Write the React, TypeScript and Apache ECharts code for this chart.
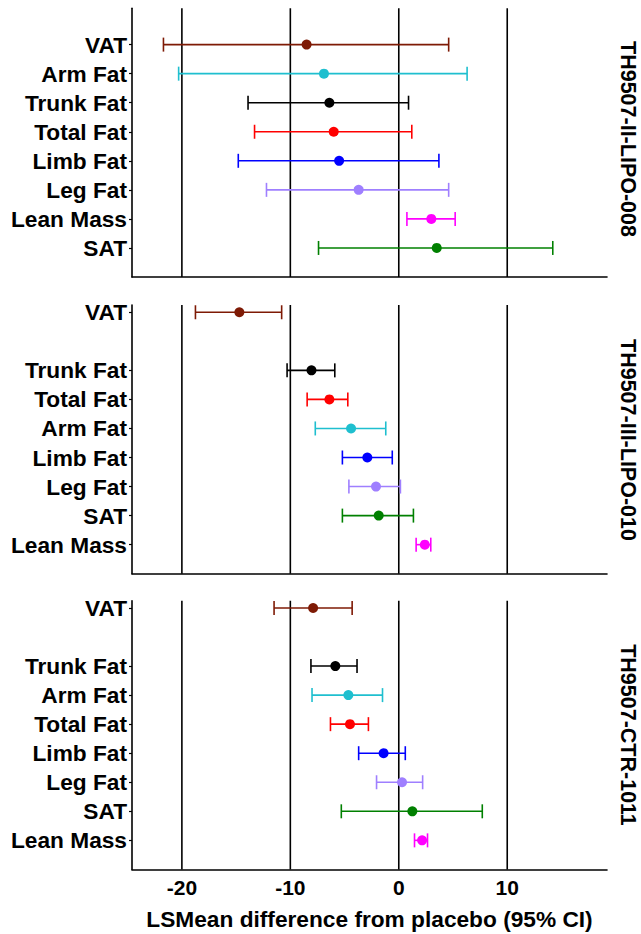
import React, { useEffect, useRef } from "react";
import * as echarts from "echarts";

// ---------- data ----------
const studies = ["TH9507-II-LIPO-008", "TH9507-III-LIPO-010", "TH9507-CTR-1011"];

const p1Cats = ["VAT", "Arm Fat", "Trunk Fat", "Total Fat", "Limb Fat", "Leg Fat", "Lean Mass", "SAT"];
const p1Pos = [0, 1, 2, 3, 4, 5, 6, 7];
const p1Mean = [-8.5, -6.9, -6.4, -6.0, -5.5, -3.7, 3.0, 3.5];
const p1Low = [-21.7, -20.3, -13.9, -13.3, -14.8, -12.2, 0.75, -7.4];
const p1High = [4.6, 6.3, 0.9, 1.2, 3.7, 4.6, 5.2, 14.2];

const p2Cats = ["VAT", "Trunk Fat", "Total Fat", "Arm Fat", "Limb Fat", "Leg Fat", "SAT", "Lean Mass"];
const p2Pos = [0, 2, 3, 4, 5, 6, 7, 8];
const p2Mean = [-14.7, -8.05, -6.4, -4.4, -2.9, -2.1, -1.85, 2.4];
const p2Low = [-18.75, -10.3, -8.45, -7.7, -5.2, -4.6, -5.2, 1.6];
const p2High = [-10.8, -5.9, -4.7, -1.2, -0.6, 0.15, 1.35, 2.95];

const p3Cats = ["VAT", "Trunk Fat", "Arm Fat", "Total Fat", "Limb Fat", "Leg Fat", "SAT", "Lean Mass"];
const p3Pos = [0, 2, 3, 4, 5, 6, 7, 8];
const p3Mean = [-7.9, -5.85, -4.65, -4.5, -1.4, 0.3, 1.25, 2.15];
const p3Low = [-11.5, -8.1, -8.0, -6.3, -3.7, -2.05, -5.3, 1.45];
const p3High = [-4.3, -3.85, -1.5, -2.8, 0.6, 2.2, 7.7, 2.65];

const refLines = [-20, -10, 0, 10];
const xTickValues = [-20, -10, 0, 10];
const xName = "LSMean difference from placebo (95% CI)";

const colorByName: Record<string, string> = {
  VAT: "#7E1A05",
  "Arm Fat": "#1FBFCF",
  "Trunk Fat": "#000000",
  "Total Fat": "#FF0000",
  "Limb Fat": "#0000FF",
  "Leg Fat": "#9F7FFF",
  "Lean Mass": "#FF00FF",
  SAT: "#008000",
};

const panels = [
  { cats: p1Cats, pos: p1Pos, mean: p1Mean, low: p1Low, high: p1High, yMin: -1.25, yMax: 8 },
  { cats: p2Cats, pos: p2Pos, mean: p2Mean, low: p2Low, high: p2High, yMin: -0.25, yMax: 9 },
  { cats: p3Cats, pos: p3Pos, mean: p3Mean, low: p3Low, high: p3High, yMin: -0.25, yMax: 9 },
];

const FONT = "'Liberation Sans', Arial, sans-serif";

export default function App() {
  const ref = useRef<HTMLDivElement>(null);

  useEffect(() => {
    if (!ref.current) return;
    const chart = echarts.init(ref.current, undefined, { renderer: "svg" });

    const gridTops = [8.3, 305, 600.7];
    const gridH = 268.7;

    const grid = gridTops.map((t) => ({ left: 132, right: 34, top: t, height: gridH }));

    const xAxis = panels.map((_, i) => ({
      type: "value",
      gridIndex: i,
      min: -24.6,
      max: 19.2,
      splitLine: { show: false },
      axisTick: { show: false },
      axisLine: { show: true, onZero: false, lineStyle: { color: "#000", width: 1.6 } },
      axisLabel: {
        show: i === 2,
        customValues: xTickValues,
        color: "#000",
        fontFamily: FONT,
        fontWeight: "bold",
        fontSize: 21,
        margin: 8,
      },
      name: i === 2 ? xName : "",
      nameLocation: "middle",
      nameGap: 38,
      nameTextStyle: { color: "#000", fontFamily: FONT, fontWeight: "bold", fontSize: 22.7 },
    }));

    const yAxis = panels.map((p, i) => ({
      type: "value",
      gridIndex: i,
      inverse: true,
      min: p.yMin,
      max: p.yMax,
      splitLine: { show: false },
      axisLine: { show: true, onZero: false, lineStyle: { color: "#000", width: 1.6 } },
      axisTick: {
        show: true,
        inside: false,
        length: 3,
        customValues: p.pos,
        lineStyle: { color: "#000", width: 1.2 },
      },
      axisLabel: {
        customValues: p.pos,
        formatter: (v: number) => {
          const k = p.pos.indexOf(Math.round(v));
          return k >= 0 ? p.cats[k] : "";
        },
        color: "#000",
        fontFamily: FONT,
        fontWeight: "bold",
        fontSize: 22.7,
        margin: 5,
      },
    }));

    const series: any[] = [];
    panels.forEach((p, i) => {
      // vertical reference lines
      series.push({
        type: "custom",
        xAxisIndex: i,
        yAxisIndex: i,
        silent: true,
        z: 1,
        data: refLines.map((v) => [v, 0]),
        renderItem: (params: any, api: any) => {
          const cs = params.coordSys;
          const x = api.coord([api.value(0), 0])[0];
          return {
            type: "line",
            shape: { x1: x, y1: cs.y, x2: x, y2: cs.y + cs.height },
            style: { stroke: "#000", lineWidth: 1.6 },
          };
        },
      });
      // error bars with points
      series.push({
        type: "custom",
        xAxisIndex: i,
        yAxisIndex: i,
        z: 5,
        data: p.cats.map((c, k) => [p.low[k], p.high[k], p.mean[k], p.pos[k], k]),
        renderItem: (params: any, api: any) => {
          const k = api.value(4);
          const color = colorByName[p.cats[k]];
          const y = api.value(3);
          const a = api.coord([api.value(0), y]);
          const b = api.coord([api.value(1), y]);
          const m = api.coord([api.value(2), y]);
          const cap = 7;
          const ls = { stroke: color, lineWidth: 1.6 };
          return {
            type: "group",
            children: [
              { type: "line", shape: { x1: a[0], y1: a[1], x2: b[0], y2: b[1] }, style: ls },
              { type: "line", shape: { x1: a[0], y1: a[1] - cap, x2: a[0], y2: a[1] + cap }, style: ls },
              { type: "line", shape: { x1: b[0], y1: b[1] - cap, x2: b[0], y2: b[1] + cap }, style: ls },
              { type: "circle", shape: { cx: m[0], cy: m[1], r: 5 }, style: { fill: color } },
            ],
          };
        },
      });
    });

    const titleCenters = [139, 440, 735];
    const graphic = studies.map((s, i) => ({
      type: "text",
      x: 628,
      y: titleCenters[i],
      rotation: -Math.PI / 2,
      style: {
        text: s,
        fill: "#000",
        font: `bold 21.5px ${FONT}`,
        align: "center",
        verticalAlign: "middle",
      },
    }));

    chart.setOption({
      animation: false,
      backgroundColor: "#fff",
      grid,
      xAxis,
      yAxis,
      series,
      graphic,
    });

    return () => chart.dispose();
  }, []);

  return <div ref={ref} style={{ width: 641, height: 934, position: "absolute", left: 0, top: 0 }} />;
}
